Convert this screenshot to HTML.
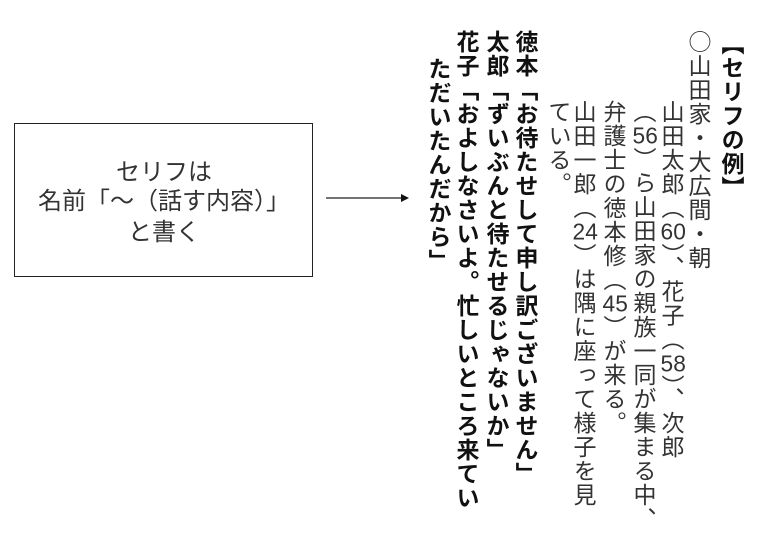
<!DOCTYPE html>
<html><head><meta charset="utf-8"><style>
body{margin:0;width:768px;height:540px;background:#fff;position:relative;overflow:hidden;font-family:"Noto Sans CJK JP","Liberation Sans",sans-serif;}
.box{position:absolute;left:14px;top:123px;width:297px;height:152px;border:1.5px solid #222;}
.bt{position:absolute;left:14px;width:300px;text-align:center;font-size:24px;color:#333;line-height:30px;}
.c{position:absolute;writing-mode:vertical-rl;font-size:23px;line-height:24px;letter-spacing:1px;color:#333;white-space:nowrap;}
.b{font-weight:bold;color:#111;}
.n{text-combine-upright:all;font-family:"Liberation Sans",sans-serif;}
</style></head><body>
<div class="box"></div>
<div class="bt" style="top:155px">セリフは</div>
<div class="bt" style="top:184px">名前「〜（話す内容）」</div>
<div class="bt" style="top:215px">と書く</div>
<svg style="position:absolute;left:0;top:0" width="768" height="540">
<line x1="326" y1="198" x2="402" y2="198" stroke="#222" stroke-width="1.3"/>
<polygon points="401,194 409,198 401,202" fill="#111"/>
</svg>
<div class="c b" style="left:721px;top:32px">【セリフの例】</div>
<div class="c" style="left:688px;top:30px">○山田家・大広間・朝</div>
<div class="c" style="left:661px;top:100px">山田太郎（<span class="n">60</span>）、花子（<span class="n">58</span>）、次郎</div>
<div class="c" style="left:633px;top:100px">（<span class="n">56</span>）ら山田家の親族一同が集まる中、</div>
<div class="c" style="left:603px;top:100px">弁護士の徳本修（<span class="n">45</span>）が来る。</div>
<div class="c" style="left:573px;top:100px">山田一郎（<span class="n">24</span>）は隅に座って様子を見</div>
<div class="c" style="left:548px;top:100px">ている。</div>
<div class="c b" style="left:515px;top:30px">徳本「お待たせして申し訳ございません」</div>
<div class="c b" style="left:486px;top:30px">太郎「ずいぶんと待たせるじゃないか」</div>
<div class="c b" style="left:456px;top:30px">花子「およしなさいよ。忙しいところ来てい</div>
<div class="c b" style="left:428px;top:57px">ただいたんだから」</div>
</body></html>
